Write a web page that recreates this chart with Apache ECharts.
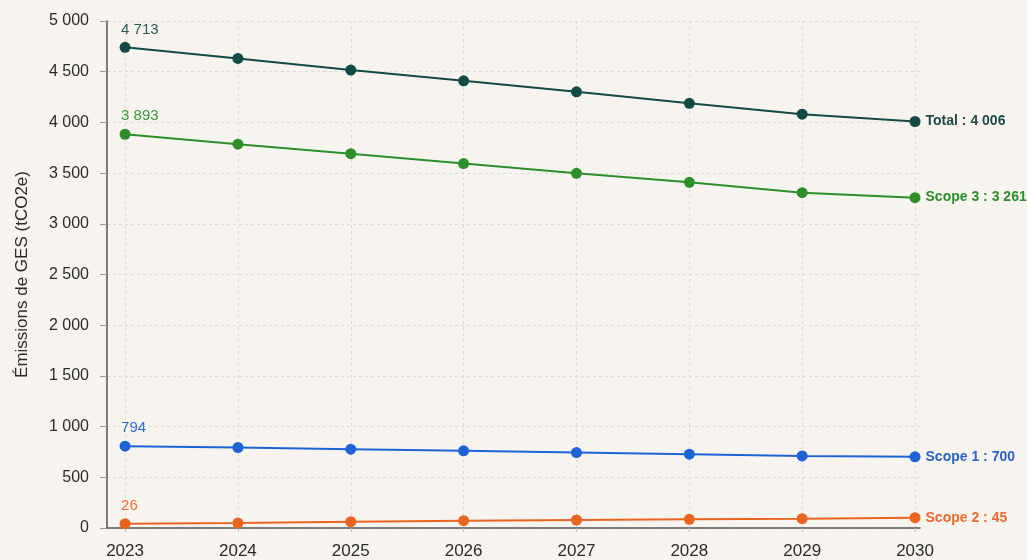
<!DOCTYPE html>
<html>
<head>
<meta charset="utf-8">
<script src="https://cdn.jsdelivr.net/npm/echarts@6/dist/echarts.min.js"></script>
<style>
html,body{margin:0;padding:0;background:#f7f4f0;}
#c{width:1027px;height:560px;}
</style>
</head>
<body>
<div id="c"></div>
<script>
const years = [2023, 2024, 2025, 2026, 2027, 2028, 2029, 2030];
const seriesNames = ['Total', 'Scope 3', 'Scope 1', 'Scope 2'];
const total  = [4740, 4631, 4516, 4410, 4302, 4188, 4081, 4009];
const scope3 = [3883, 3785, 3692, 3594, 3498, 3409, 3307, 3258];
const scope1 = [807, 794, 777, 761, 744, 728, 711, 702];
const scope2 = [43, 49, 62, 72, 79, 86, 92, 102];
const startLabels = [4713, 3893, 794, 26];
const endLabels = [4006, 3261, 700, 45];

const colors = ['#124a45', '#2c8f2a', '#1d63d6', '#ea6420'];
const startColors = ['#2a5a55', '#3c9a3a', '#2a6ed8', '#ee7035'];
const endColors = ['#1f4a45', '#2c8f2a', '#2a62c8', '#e8692a'];
const values = [total, scope3, scope1, scope2];

function fmt(v) {
  return String(v).replace(/\B(?=(\d{3})+(?!\d))/g, ' ');
}

const chart = echarts.init(document.getElementById('c'));
const series = values.map((vals, k) => ({
  name: seriesNames[k],
  type: 'line',
  data: years.map((y, i) => {
    const d = [y, vals[i]];
    if (i === 0) {
      return { value: d, label: { show: true, formatter: fmt(startLabels[k]), position: 'top', align: 'left', distance: 5, offset: [-4, 0], color: startColors[k], fontSize: 15, fontFamily: 'Liberation Sans, Arial, sans-serif' } };
    }
    if (i === years.length - 1) {
      return { value: d, label: { show: true, formatter: seriesNames[k] + ' : ' + fmt(endLabels[k]), position: 'right', distance: 5, color: endColors[k], fontSize: 14, fontWeight: 'bold', fontFamily: 'Liberation Sans, Arial, sans-serif' } };
    }
    return { value: d, label: { show: false } };
  }),
  symbol: 'circle',
  symbolSize: 11,
  lineStyle: { color: colors[k], width: 2 },
  itemStyle: { color: colors[k] },
  z: 10 - k,
  emphasis: { disabled: true },
  animation: false
}));

chart.setOption({
  backgroundColor: '#f7f4f0',
  animation: false,
  grid: { left: 107, right: 107, top: 21, bottom: 32, containLabel: false },
  xAxis: {
    type: 'value',
    min: 2022.84,
    max: 2030.044,
    axisLine: { show: true, lineStyle: { color: '#555', width: 1.5 } },
    axisTick: { show: true, customValues: years, length: 4, lineStyle: { color: '#bbb' } },
    axisLabel: { customValues: years, formatter: v => String(v), color: '#2b2b2b', fontSize: 17, margin: 15, fontFamily: 'Liberation Sans, Arial, sans-serif' },
    splitLine: { show: true, lineStyle: { color: '#dedad4', type: [3, 3], width: 1 } }
  },
  yAxis: {
    type: 'value',
    min: 0,
    max: 5000,
    interval: 500,
    name: 'Émissions de GES (tCO2e)',
    nameLocation: 'middle',
    nameGap: 76,
    nameTextStyle: { color: '#2b2b2b', fontSize: 17, fontFamily: 'Liberation Sans, Arial, sans-serif' },
    axisLine: { show: true, lineStyle: { color: '#555', width: 1.5 } },
    axisTick: { show: true, length: 7, lineStyle: { color: '#999' } },
    axisLabel: { formatter: v => fmt(v), color: '#2b2b2b', fontSize: 16, margin: 18, fontFamily: 'Liberation Sans, Arial, sans-serif' },
    splitLine: { show: true, lineStyle: { color: '#dedad4', type: [3, 3], width: 1 } }
  },
  series: series
});
</script>
</body>
</html>
